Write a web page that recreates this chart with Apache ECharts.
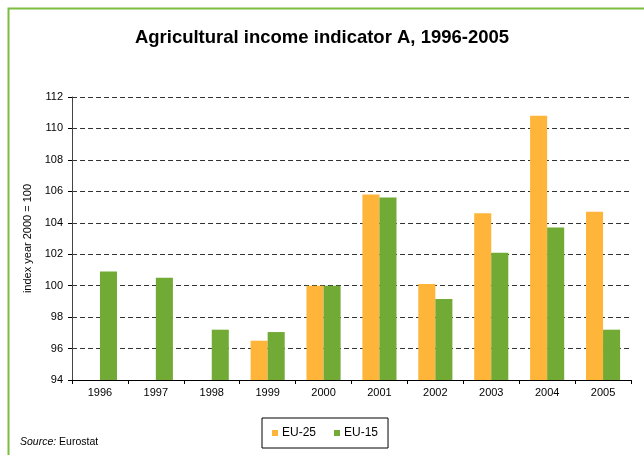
<!DOCTYPE html>
<html><head><meta charset="utf-8">
<script src="https://cdn.jsdelivr.net/npm/echarts@6/dist/echarts.min.js"></script>
<style>html,body{margin:0;padding:0;background:#fff}#c{width:644px;height:455px}</style>
</head><body><div id="c"></div>
<script>
const categories = ['1996','1997','1998','1999','2000','2001','2002','2003','2004','2005'];
const eu25 = [null, null, null, 96.5, 100.0, 105.8, 100.1, 104.6, 110.8, 104.7];
const eu15 = [100.9, 100.5, 97.2, 97.05, 100.0, 105.6, 99.15, 102.1, 103.7, 97.2];
const seriesNames = ['EU-25', 'EU-15'];
const titleText = 'Agricultural income indicator A, 1996-2005';
const yAxisName = 'index year 2000 = 100';

const chart = echarts.init(document.getElementById('c'));
const font = 'Liberation Sans, Arial, sans-serif';
chart.setOption({
  animation: false,
  backgroundColor: '#fff',
  textStyle: { fontFamily: font },
  title: {
    text: titleText, left: 'center', top: 23,
    textStyle: { fontSize: 18.5, fontWeight: 'bold', color: '#000', fontFamily: font }
  },
  grid: { left: 72, right: 13, top: 97, bottom: 75 },
  xAxis: {
    type: 'category', data: categories,
    axisLine: { lineStyle: { color: '#000', width: 1 } },
    axisTick: { show: true, alignWithLabel: false, length: 4, lineStyle: { color: '#000' } },
    axisLabel: { color: '#000', fontSize: 11, margin: 7, fontFamily: font }
  },
  yAxis: {
    type: 'value', min: 94, max: 112, interval: 2,
    name: yAxisName, nameLocation: 'middle', nameGap: 38, nameRotate: 90,
    nameTextStyle: { color: '#000', fontSize: 11, fontFamily: font },
    axisLine: { show: true, lineStyle: { color: '#444', width: 1 } },
    axisTick: { show: true, length: 4, lineStyle: { color: '#000' } },
    axisLabel: { color: '#000', fontSize: 11, margin: 9, fontFamily: font },
    splitLine: { show: true, lineStyle: { color: '#333', type: [5, 3], width: 1 } }
  },
  legend: {
    data: seriesNames, left: 262, top: 418,
    orient: 'horizontal',
    icon: 'rect', itemWidth: 6, itemHeight: 6, itemGap: 18,
    padding: [9, 10, 9, 10],
    borderColor: '#000', borderWidth: 1, borderRadius: 0,
    textStyle: { color: '#000', fontSize: 12, fontFamily: font, padding: [0, 0, 0, -1] }
  },
  series: [
    { name: seriesNames[0], type: 'bar', data: eu25, barGap: '0%', barCategoryGap: '39%',
      itemStyle: { color: '#ffb43a' } },
    { name: seriesNames[1], type: 'bar', data: eu15,
      itemStyle: { color: '#71aa35' } }
  ],
  graphic: [
    { type: 'rect', left: 6, top: 6, shape: { width: 700, height: 500 }, silent: true, z: -10,
      style: { fill: 'none', stroke: '#7cbd3f', lineWidth: 2 } },
    { type: 'text', left: 20, top: 437,
      style: { text: '{i|Source:} Eurostat', font: '10.5px ' + font, fill: '#000',
        rich: { i: { fontStyle: 'italic', fontSize: 10.5, fontFamily: font, fill: '#000' } } } }
  ]
});
</script></body></html>
